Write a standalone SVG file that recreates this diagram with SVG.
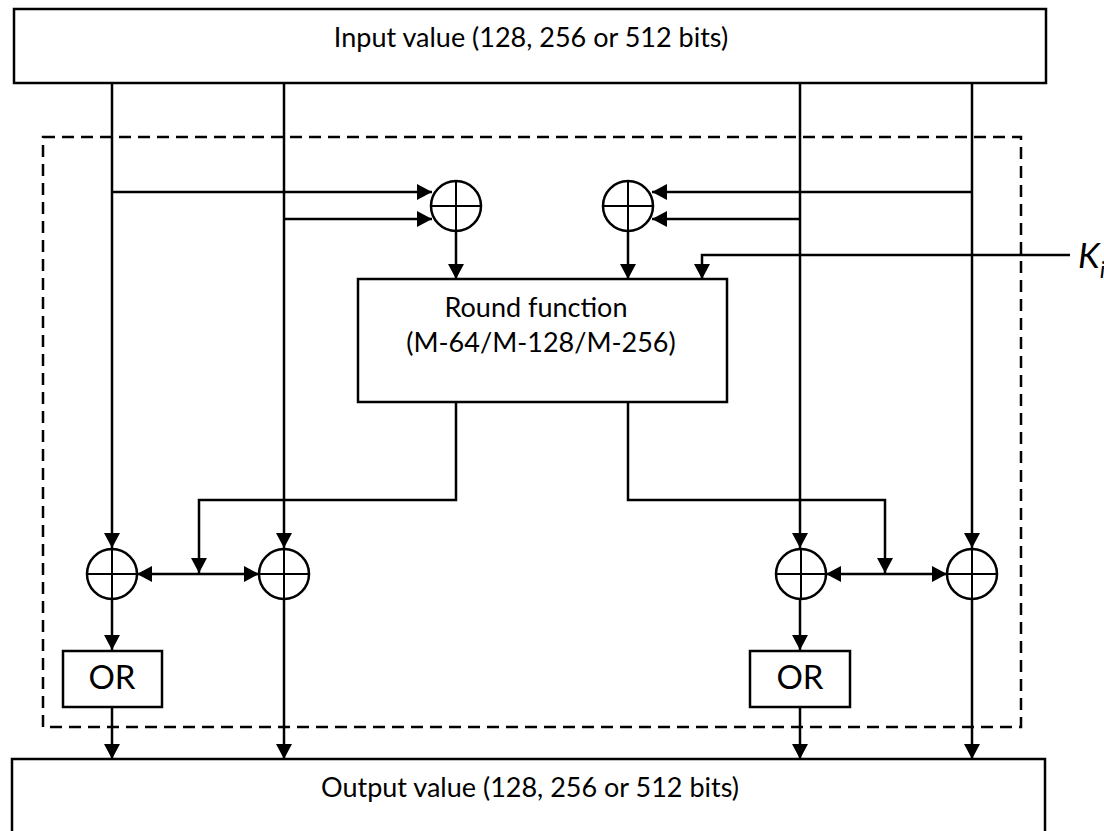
<svg xmlns="http://www.w3.org/2000/svg" width="1104" height="831" viewBox="0 0 1104 831">
<defs>
<marker id="ah" markerUnits="userSpaceOnUse" markerWidth="16" markerHeight="16" refX="15" refY="8" orient="auto-start-reverse" viewBox="0 0 16 16">
<path d="M0,0 L15,8 L0,16 z" fill="#000"/>
</marker>
<style>
.box{fill:#fff;stroke:#000;stroke-width:2.5}
.xor{fill:#fff;stroke:#000;stroke-width:2.5}
.x{stroke:#000;stroke-width:2;fill:none}
.c{stroke:#000;stroke-width:2.5;fill:none}
.a{marker-end:url(#ah)}
.b{marker-start:url(#ah);marker-end:url(#ah)}
.dash{fill:none;stroke:#000;stroke-width:2.5;stroke-dasharray:12 7}
text{font-family:Lato,"Open Sans","Liberation Sans",sans-serif;fill:#000}
.t{font-size:27px;text-anchor:middle}
.or{font-size:33px;text-anchor:middle}
</style>
</defs>
<rect class="dash" x="43" y="137" width="978" height="590"/>
<g id="connectors">
<path class="c a" d="M112,83 V548"/>
<path class="c a" d="M284,83 V548"/>
<path class="c a" d="M800,83 V548"/>
<path class="c a" d="M972,83 V548"/>
<path class="c a" d="M112,192 H432"/>
<path class="c a" d="M284,219 H432"/>
<path class="c a" d="M972,192 H652"/>
<path class="c a" d="M800,219 H652"/>
<path class="c a" d="M456,231 V279"/>
<path class="c a" d="M628,231 V279"/>
<path class="c a" d="M1070,255 H702 V279"/>
<path class="c a" d="M456,402 V500 H199 V573"/>
<path class="c a" d="M628,402 V500 H885 V573"/>
<path class="c b" d="M137,574 H259"/>
<path class="c b" d="M826,574 H947"/>
<path class="c a" d="M112,599 V650"/>
<path class="c a" d="M112,707 V759"/>
<path class="c a" d="M284,599 V759"/>
<path class="c a" d="M800,599 V650"/>
<path class="c a" d="M800,707 V759"/>
<path class="c a" d="M972,599 V759"/>
</g>
<g id="input">
<rect class="box" x="14" y="9" width="1032" height="74"/>
<text class="t" x="531" y="47">Input value (128, 256 or 512 bits)</text>
</g>
<g id="output">
<rect class="box" x="12" y="759" width="1033" height="90"/>
<text class="t" x="530" y="797">Output value (128, 256 or 512 bits)</text>
</g>
<g id="round">
<rect class="box" x="358" y="279" width="369" height="123"/>
<text class="t" x="536" y="317">Round function</text>
<text class="t" x="541" y="352">(M-64/M-128/M-256)</text>
</g>
<g id="xor-top-left"><circle class="xor" cx="456" cy="206" r="25"/><path class="x" d="M431,206 H481 M456,181 V231"/></g>
<g id="xor-top-right"><circle class="xor" cx="628" cy="206" r="25"/><path class="x" d="M603,206 H653 M628,181 V231"/></g>
<g id="xor-1"><circle class="xor" cx="112" cy="574" r="25"/><path class="x" d="M87,574 H137 M112,549 V599"/></g>
<g id="xor-2"><circle class="xor" cx="284" cy="574" r="25"/><path class="x" d="M259,574 H309 M284,549 V599"/></g>
<g id="xor-3"><circle class="xor" cx="801" cy="574" r="25"/><path class="x" d="M776,574 H826 M801,549 V599"/></g>
<g id="xor-4"><circle class="xor" cx="972" cy="574" r="25"/><path class="x" d="M947,574 H997 M972,549 V599"/></g>
<g id="or-left">
<rect class="box" x="63" y="651" width="99" height="56"/>
<text class="or" x="112" y="689">OR</text>
</g>
<g id="or-right">
<rect class="box" x="750" y="651" width="100" height="56"/>
<text class="or" x="800" y="689">OR</text>
</g>
<g id="ki">
<text x="1078" y="268" font-size="35" font-style="italic">K<tspan font-size="24" dy="10">i</tspan></text>
</g>
</svg>
